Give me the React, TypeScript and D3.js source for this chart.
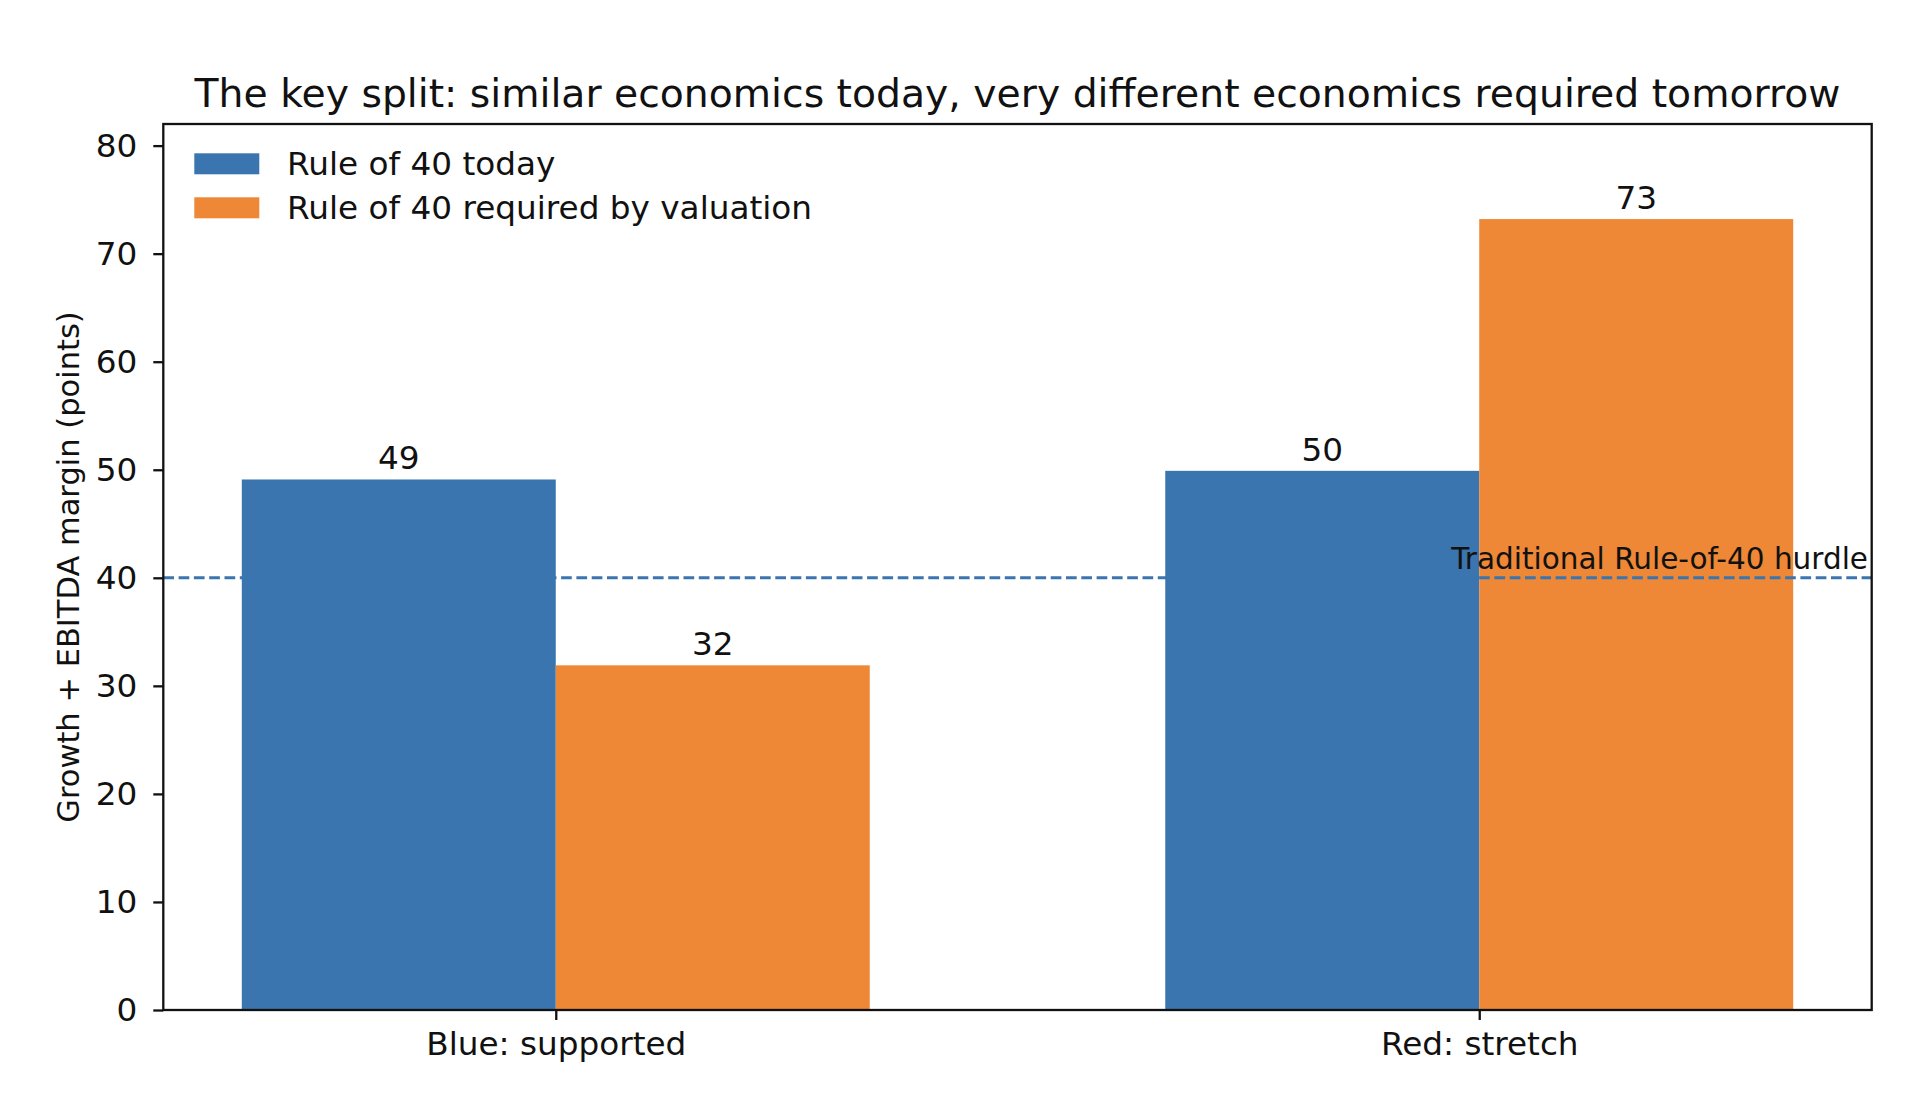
import * as d3 from 'd3';
import { useRef, useEffect } from 'react';

const categories = ['Blue: supported', 'Red: stretch'];
const seriesNames = ['Rule of 40 today', 'Rule of 40 required by valuation'];
const todayValues = [49.1, 49.9];
const requiredValues = [31.9, 73.2];
const yTickValues = [0, 10, 20, 30, 40, 50, 60, 70, 80];
const hurdleValue = 40;
const hurdleLabel = 'Traditional Rule-of-40 hurdle';
const title = 'The key split: similar economics today, very different economics required tomorrow';
const yLabel = 'Growth + EBITDA margin (points)';

const BLUE = '#3b75af';
const ORANGE = '#ee8736';
const FONT = '"DejaVu Sans", Verdana, sans-serif';
const FS = 32.7;

export default function App() {
  const svgRef = useRef<SVGSVGElement>(null);

  useEffect(() => {
    if (!svgRef.current) return;
    const svg = d3.select(svgRef.current);
    svg.selectAll('*').remove();

    const left = 163.3;
    const right = 1871.7;
    const top = 124;
    const bottom = 1010;
    const barW = 0.34;

    const x = d3.scaleLinear().domain([-0.425, 1.425]).range([left, right]);
    const y = d3.scaleLinear().domain([0, 82]).range([bottom, top]);

    const series = [
      { name: seriesNames[0], values: todayValues, color: BLUE, offset: -barW },
      { name: seriesNames[1], values: requiredValues, color: ORANGE, offset: 0 },
    ];

    // Bars + value labels
    series.forEach((s) => {
      s.values.forEach((v, i) => {
        svg.append('rect')
          .attr('x', x(i + s.offset)).attr('y', y(v))
          .attr('width', x(i + s.offset + barW) - x(i + s.offset))
          .attr('height', y(0) - y(v))
          .attr('fill', s.color);

        svg.append('text')
          .attr('x', x(i + s.offset + barW / 2)).attr('y', y(v) - 10)
          .attr('text-anchor', 'middle')
          .attr('font-family', FONT).attr('font-size', FS).attr('fill', '#111')
          .text(d3.format('.0f')(v));
      });
    });

    // Hurdle line
    svg.append('line')
      .attr('x1', left).attr('x2', right)
      .attr('y1', y(hurdleValue)).attr('y2', y(hurdleValue))
      .attr('stroke', BLUE).attr('stroke-width', 2.9)
      .attr('stroke-dasharray', '10.7,4.6');

    svg.append('text')
      .attr('x', x(1.421)).attr('y', y(hurdleValue) - 8.5)
      .attr('text-anchor', 'end')
      .attr('font-family', FONT).attr('font-size', 29.5).attr('fill', '#111')
      .text(hurdleLabel);

    // Axes
    const yAxis = svg.append('g').attr('transform', `translate(${left},0)`)
      .call(d3.axisLeft(y).tickValues(yTickValues).tickSize(10).tickPadding(16));
    const xAxis = svg.append('g').attr('transform', `translate(0,${bottom})`)
      .call(d3.axisBottom(x).tickValues([0, 1]).tickSize(10).tickPadding(12)
        .tickFormat((d) => categories[d as number]));
    [yAxis, xAxis].forEach((ag) => {
      ag.select('.domain').remove();
      ag.selectAll('.tick line').attr('stroke', '#111').attr('stroke-width', 2.3);
      ag.selectAll('.tick text').attr('font-family', FONT).attr('font-size', FS).attr('fill', '#111');
    });

    // Frame
    svg.append('rect')
      .attr('x', left).attr('y', top)
      .attr('width', right - left).attr('height', bottom - top)
      .attr('fill', 'none').attr('stroke', '#111').attr('stroke-width', 2.3);

    // Title and y label
    svg.append('text')
      .attr('x', (left + right) / 2).attr('y', 106.7)
      .attr('text-anchor', 'middle')
      .attr('font-family', FONT).attr('font-size', 39.3).attr('fill', '#111')
      .text(title);

    svg.append('text')
      .attr('transform', `translate(79,${(top + bottom) / 2}) rotate(-90)`)
      .attr('text-anchor', 'middle')
      .attr('font-family', FONT).attr('font-size', 30.5).attr('fill', '#111')
      .text(yLabel);

    // Legend
    series.forEach((s, i) => {
      const ly = 153.3 + i * 44;
      svg.append('rect')
        .attr('x', 194.3).attr('y', ly)
        .attr('width', 65).attr('height', 21)
        .attr('fill', s.color);
      svg.append('text')
        .attr('x', 287).attr('y', ly + 10.5)
        .attr('dominant-baseline', 'central')
        .attr('font-family', FONT).attr('font-size', FS).attr('fill', '#111')
        .text(s.name);
    });
  }, []);

  return (
    <div style={{ position: 'absolute', left: 0, top: 0, background: '#fff' }}>
      <svg ref={svgRef} width={1928} height={1108} style={{ display: 'block' }} />
    </div>
  );
}
